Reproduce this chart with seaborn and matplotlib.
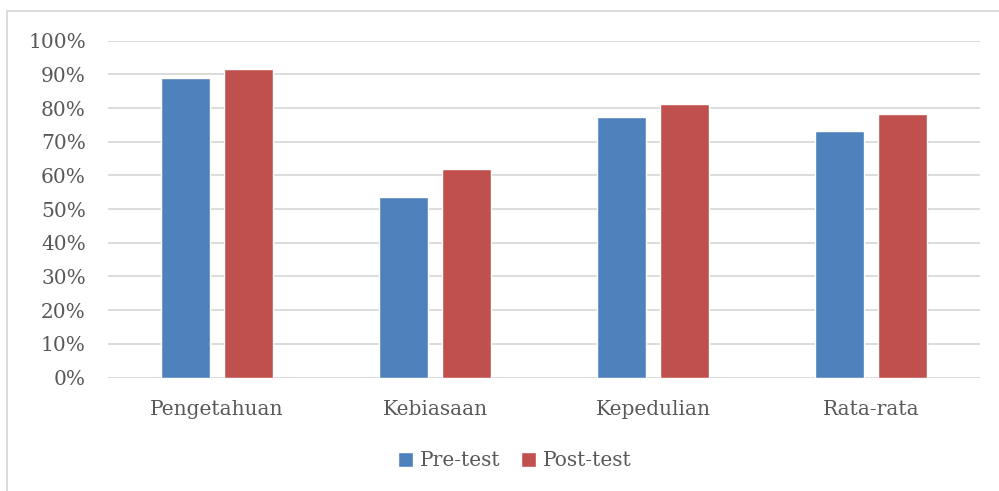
import matplotlib
matplotlib.use("Agg")
import matplotlib.pyplot as plt
from matplotlib.patches import Rectangle
from matplotlib.ticker import PercentFormatter
import seaborn as sns
import pandas as pd

kategori = ["Pengetahuan", "Kebiasaan", "Kepedulian", "Rata-rata"]
pre_test = [0.888, 0.535, 0.774, 0.732]
post_test = [0.917, 0.618, 0.813, 0.782]

df = pd.DataFrame({
    "kategori": kategori * 2,
    "nilai": pre_test + post_test,
    "tes": ["Pre-test"] * 4 + ["Post-test"] * 4,
})

sns.set_style("white")
plt.rcParams["font.family"] = ["DejaVu Serif"]
abu = "#595959"

fig = plt.figure(figsize=(9.99, 4.91), dpi=100)
ax = fig.add_axes([108 / 999, 113.5 / 491, 872 / 999, 336.8 / 491])

sns.barplot(data=df, x="kategori", y="nilai", hue="tes",
            palette=["#4F81BD", "#C0504D"], width=0.57, gap=0.21,
            saturation=1, ax=ax, legend=True)

ax.set_ylim(0, 1)
ax.set_yticks([i / 10 for i in range(11)])
ax.yaxis.set_major_formatter(PercentFormatter(1.0, decimals=0))
ax.set_xlim(-0.5, 3.5)
ax.set_xlabel("")
ax.set_ylabel("")
ax.grid(axis="y", color="#d9d9d9", linewidth=1.3)
ax.set_axisbelow(True)
for s in ax.spines.values():
    s.set_visible(False)
ax.tick_params(axis="both", length=0, labelsize=14.5, labelcolor=abu)
ax.tick_params(axis="x", pad=16)
ax.tick_params(axis="y", pad=16)

leg = ax.legend(loc="center", bbox_to_anchor=(515 / 999, 30 / 491),
                bbox_transform=fig.transFigure, ncol=2, frameon=False,
                fontsize=14.5, handlelength=0.75, handleheight=0.75,
                handletextpad=0.35, columnspacing=1.0)
for t in leg.get_texts():
    t.set_color(abu)

fig.patches.append(Rectangle((7 / 999, -0.1), 1.1, (491 - 11) / 491 + 0.1,
                             transform=fig.transFigure, fill=False,
                             edgecolor="#d9d9d9", linewidth=1.3))

fig.savefig("out.png", dpi=100)
